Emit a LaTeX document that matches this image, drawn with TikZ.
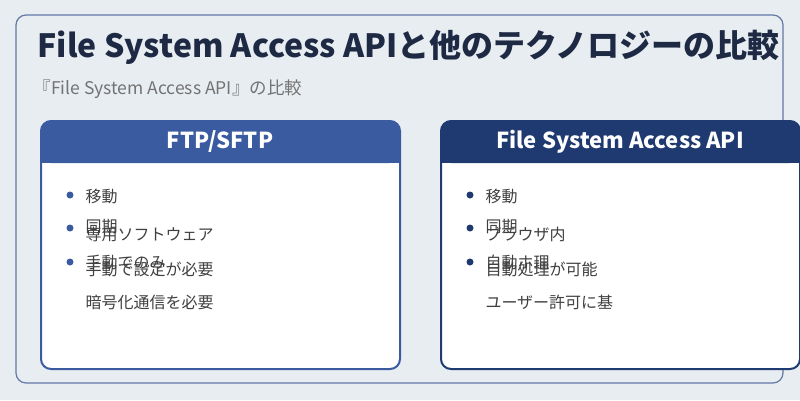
\documentclass[tikz,border=0pt]{standalone}
\usepackage{fontspec}
\setmainfont{Noto Sans CJK JP}
\begin{document}
\begin{tikzpicture}[x=1pt,y=-1pt,
  txt/.style={anchor=west,font=\fontsize{16}{18}\selectfont,text=black!75},
  dotL/.style={circle,fill=colL,inner sep=0pt,minimum size=7pt},
  dotR/.style={circle,fill=colR,inner sep=0pt,minimum size=7pt}]
\definecolor{colL}{HTML}{3A5BA0}\definecolor{colR}{HTML}{1F3A70}
\useasboundingbox (0,0) rectangle (800,400);
\fill[fill={rgb,255:red,232;green,237;blue,242}] (0,0) rectangle (800,400);
\draw[draw={rgb,255:red,100;green,120;blue,165},line width=1.2pt,rounded corners=10pt] (16,15) rectangle (783,383);
\node[anchor=west,font=\fontsize{32}{34}\selectfont\bfseries,text={rgb,255:red,30;green,42;blue,68}] (title) at (34,47) {File System Access APIと他のテクノロジーの比較};
\node[anchor=west,font=\fontsize{17.5}{19}\selectfont,text=black!55] (sub) at (30,89) {『File System Access API』の比較};
% left card
\draw[colL,line width=2pt,fill=white,rounded corners=10pt] (41,121) rectangle (400,369);
\fill[colL,rounded corners=10pt] (41,121) rectangle (400,163);
\fill[colL] (42,150) rectangle (399,163);
\node[font=\fontsize{22}{24}\selectfont\bfseries,text=white] (hl) at (220,142) {FTP/SFTP};
\foreach \y in {195,228,262}{\node[dotL] at (70,\y) {};}
\node[txt] (l1) at (82,196) {移動};
\node[txt] (l2) at (82,227) {同期};
\node[txt] (l3) at (82,234) {専用ソフトウェア};
\node[txt] (l4) at (82,262) {手動でのみ};
\node[txt] (l5) at (82,269) {手動で設定が必要};
\node[txt] (l6) at (82,302) {暗号化通信を必要};
% right card
\draw[colR,line width=2pt,fill=white,rounded corners=10pt] (441,121) rectangle (800,369);
\fill[colR,rounded corners=10pt] (441,121) rectangle (800,163);
\fill[colR] (442,150) rectangle (799,163);
\node[font=\fontsize{22}{24}\selectfont\bfseries,text=white] (hr) at (620,142) {File System Access API};
\foreach \y in {195,228,262}{\node[dotR] at (470,\y) {};}
\node[txt] (r1) at (482,196) {移動};
\node[txt] (r2) at (482,227) {同期};
\node[txt] (r3) at (482,234) {ブラウザ内};
\node[txt] (r4) at (482,262) {自動ホ理};
\node[txt] (r5) at (482,269) {自動処理が可能};
\node[txt] (r6) at (482,302) {ユーザー許可に基};
\end{tikzpicture}
\end{document}
